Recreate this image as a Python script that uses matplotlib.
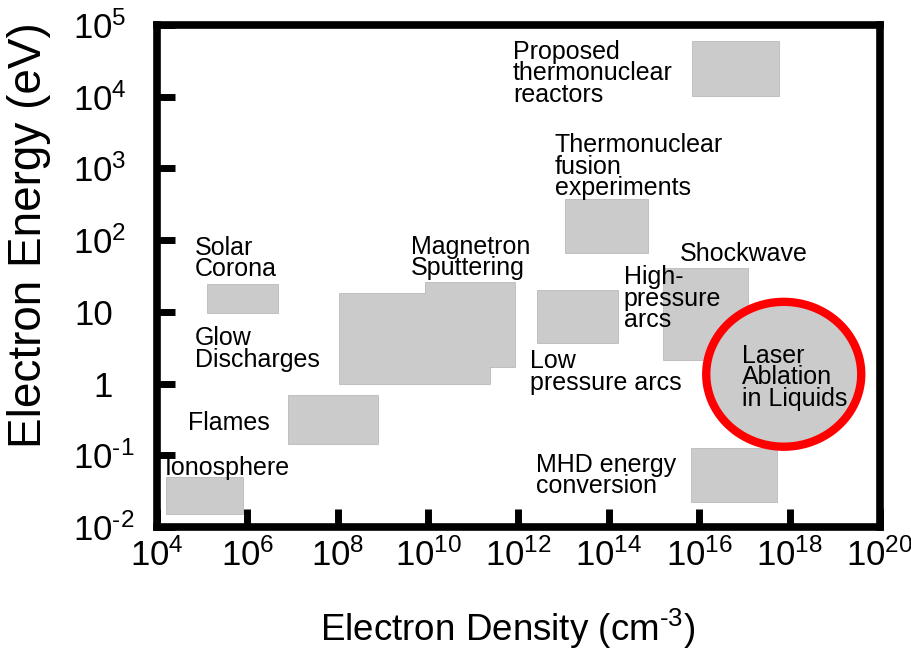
import numpy as np
import matplotlib
matplotlib.use("Agg")
from matplotlib import pyplot as plt

plt.rcParams['font.family'] = ['Liberation Sans', 'DejaVu Sans']
plt.rcParams['mathtext.fontset'] = 'custom'
plt.rcParams['mathtext.rm'] = 'Liberation Sans'
plt.rcParams['mathtext.it'] = 'Liberation Sans'

# plasma regimes: density range (cm^-3) and energy range (eV), as decade exponents
names = ["Ionosphere", "Flames", "Solar Corona", "Glow Discharges",
         "Magnetron Sputtering", "Low pressure arcs", "Thermonuclear fusion",
         "Proposed reactors", "High-pressure arcs / Shockwave", "MHD"]
dens_lo = [4.22, 6.92, 5.13, 8.05, 9.95, 12.43, 13.05, 15.86, 15.22, 15.84]
dens_hi = [5.90, 8.89, 6.68, 11.37, 11.92, 14.20, 14.86, 17.76, 17.08, 17.72]
en_lo = [-1.82, -0.84, 0.98, 0.00, 0.23, 0.56, 1.82, 4.01, 0.33, -1.65]
en_hi = [-1.32, -0.17, 1.37, 1.25, 1.40, 1.29, 2.56, 4.76, 1.60, -0.91]

# laser ablation in liquids (ellipse, decade exponents)
lal_center = (17.87, 0.13)
lal_halfwidth = (1.715, 1.01)

# labels: text, density exponent, energy exponent (top-left of text)
label_text = ["Proposed\nthermonuclear\nreactors",
              "Thermonuclear\nfusion\nexperiments",
              "Solar\nCorona",
              "Glow\nDischarges",
              "Magnetron\nSputtering",
              "Shockwave",
              "High-\npressure\narcs",
              "Low\npressure arcs",
              "Laser\nAblation\nin Liquids",
              "Flames",
              "Ionosphere",
              "MHD energy\nconversion"]
label_x = [11.88, 12.80, 4.84, 4.84, 9.62, 15.57, 14.33, 12.25, 16.95, 4.69, 4.18, 12.39]
label_y = [4.79, 3.49, 2.06, 0.80, 2.07, 1.97, 1.65, 0.48, 0.55, -0.38, -1.01, -0.97]

xticks = [4, 6, 8, 10, 12, 14, 16, 18, 20]
yticks = [-2, -1, 0, 1, 2, 3, 4, 5]
ytick_labels = [r"$10^{\text{-}2}$", r"$10^{\text{-}1}$", "1", "10",
                "$10^{2}$", "$10^{3}$", "$10^{4}$", "$10^{5}$"]

gray = '#cbcbcb'

fig = plt.figure(figsize=(9.12, 6.5), dpi=100)
ax = fig.add_axes([0.1721, 0.1892, 0.7928, 0.7723])
ax.set_xscale('log')
ax.set_yscale('log')
ax.set_xlim(1e4, 1e20)
ax.set_ylim(1e-2, 1e5)

# edges first, then faces on top so overlaps merge
for i in range(len(names)):
    xs = [10**dens_lo[i], 10**dens_hi[i], 10**dens_hi[i], 10**dens_lo[i]]
    ys = [10**en_lo[i], 10**en_lo[i], 10**en_hi[i], 10**en_hi[i]]
    ax.fill(xs, ys, facecolor=gray, edgecolor='#b4b4b4', lw=1.2, zorder=1)
for i in range(len(names)):
    xs = [10**dens_lo[i], 10**dens_hi[i], 10**dens_hi[i], 10**dens_lo[i]]
    ys = [10**en_lo[i], 10**en_lo[i], 10**en_hi[i], 10**en_hi[i]]
    ax.fill(xs, ys, facecolor=gray, edgecolor='none', zorder=1.5)

t = np.linspace(0, 2*np.pi, 200)
ex = 10**(lal_center[0] + lal_halfwidth[0]*np.cos(t))
ey = 10**(lal_center[1] + lal_halfwidth[1]*np.sin(t))
ax.fill(ex, ey, facecolor=gray, edgecolor='#ff0000', lw=6, zorder=1.8)

for s, lx, ly in zip(label_text, label_x, label_y):
    ax.text(10**lx, 10**ly, s, ha='left', va='top', fontsize=18, linespacing=0.86, zorder=2.2)

ax.set_xticks([10.0**k for k in xticks])
ax.set_xticklabels(["$10^{%d}$" % k for k in xticks])
ax.set_yticks([10.0**k for k in yticks])
ax.set_yticklabels([])
ax.minorticks_off()
ax.tick_params(direction='in', length=13, width=5, labelsize=25, color='black')
ax.tick_params(axis='x', pad=8)

# y tick labels: base numbers share a right edge, exponents hang past it
ytr = ax.get_yaxis_transform()
for k, lab in zip(yticks, ytick_labels):
    if lab.startswith('$'):
        ax.text(-0.116, 10.0**k, lab, transform=ytr, ha='left', va='center_baseline',
                fontsize=25, clip_on=False)
    else:
        ax.text(-0.0609, 10.0**k, lab, transform=ytr, ha='right', va='center_baseline',
                fontsize=25, clip_on=False)

for sp in ax.spines.values():
    sp.set_linewidth(5.5)

ax.set_xlabel(r"Electron Density (cm$^{\text{-}3}$)", fontsize=26.5)
ax.set_ylabel("Electron Energy (eV)", fontsize=33)
ax.xaxis.set_label_coords(0.4855, -0.158)
ax.yaxis.set_label_coords(-0.147, 0.582)

fig.savefig('out.png', dpi=100)
